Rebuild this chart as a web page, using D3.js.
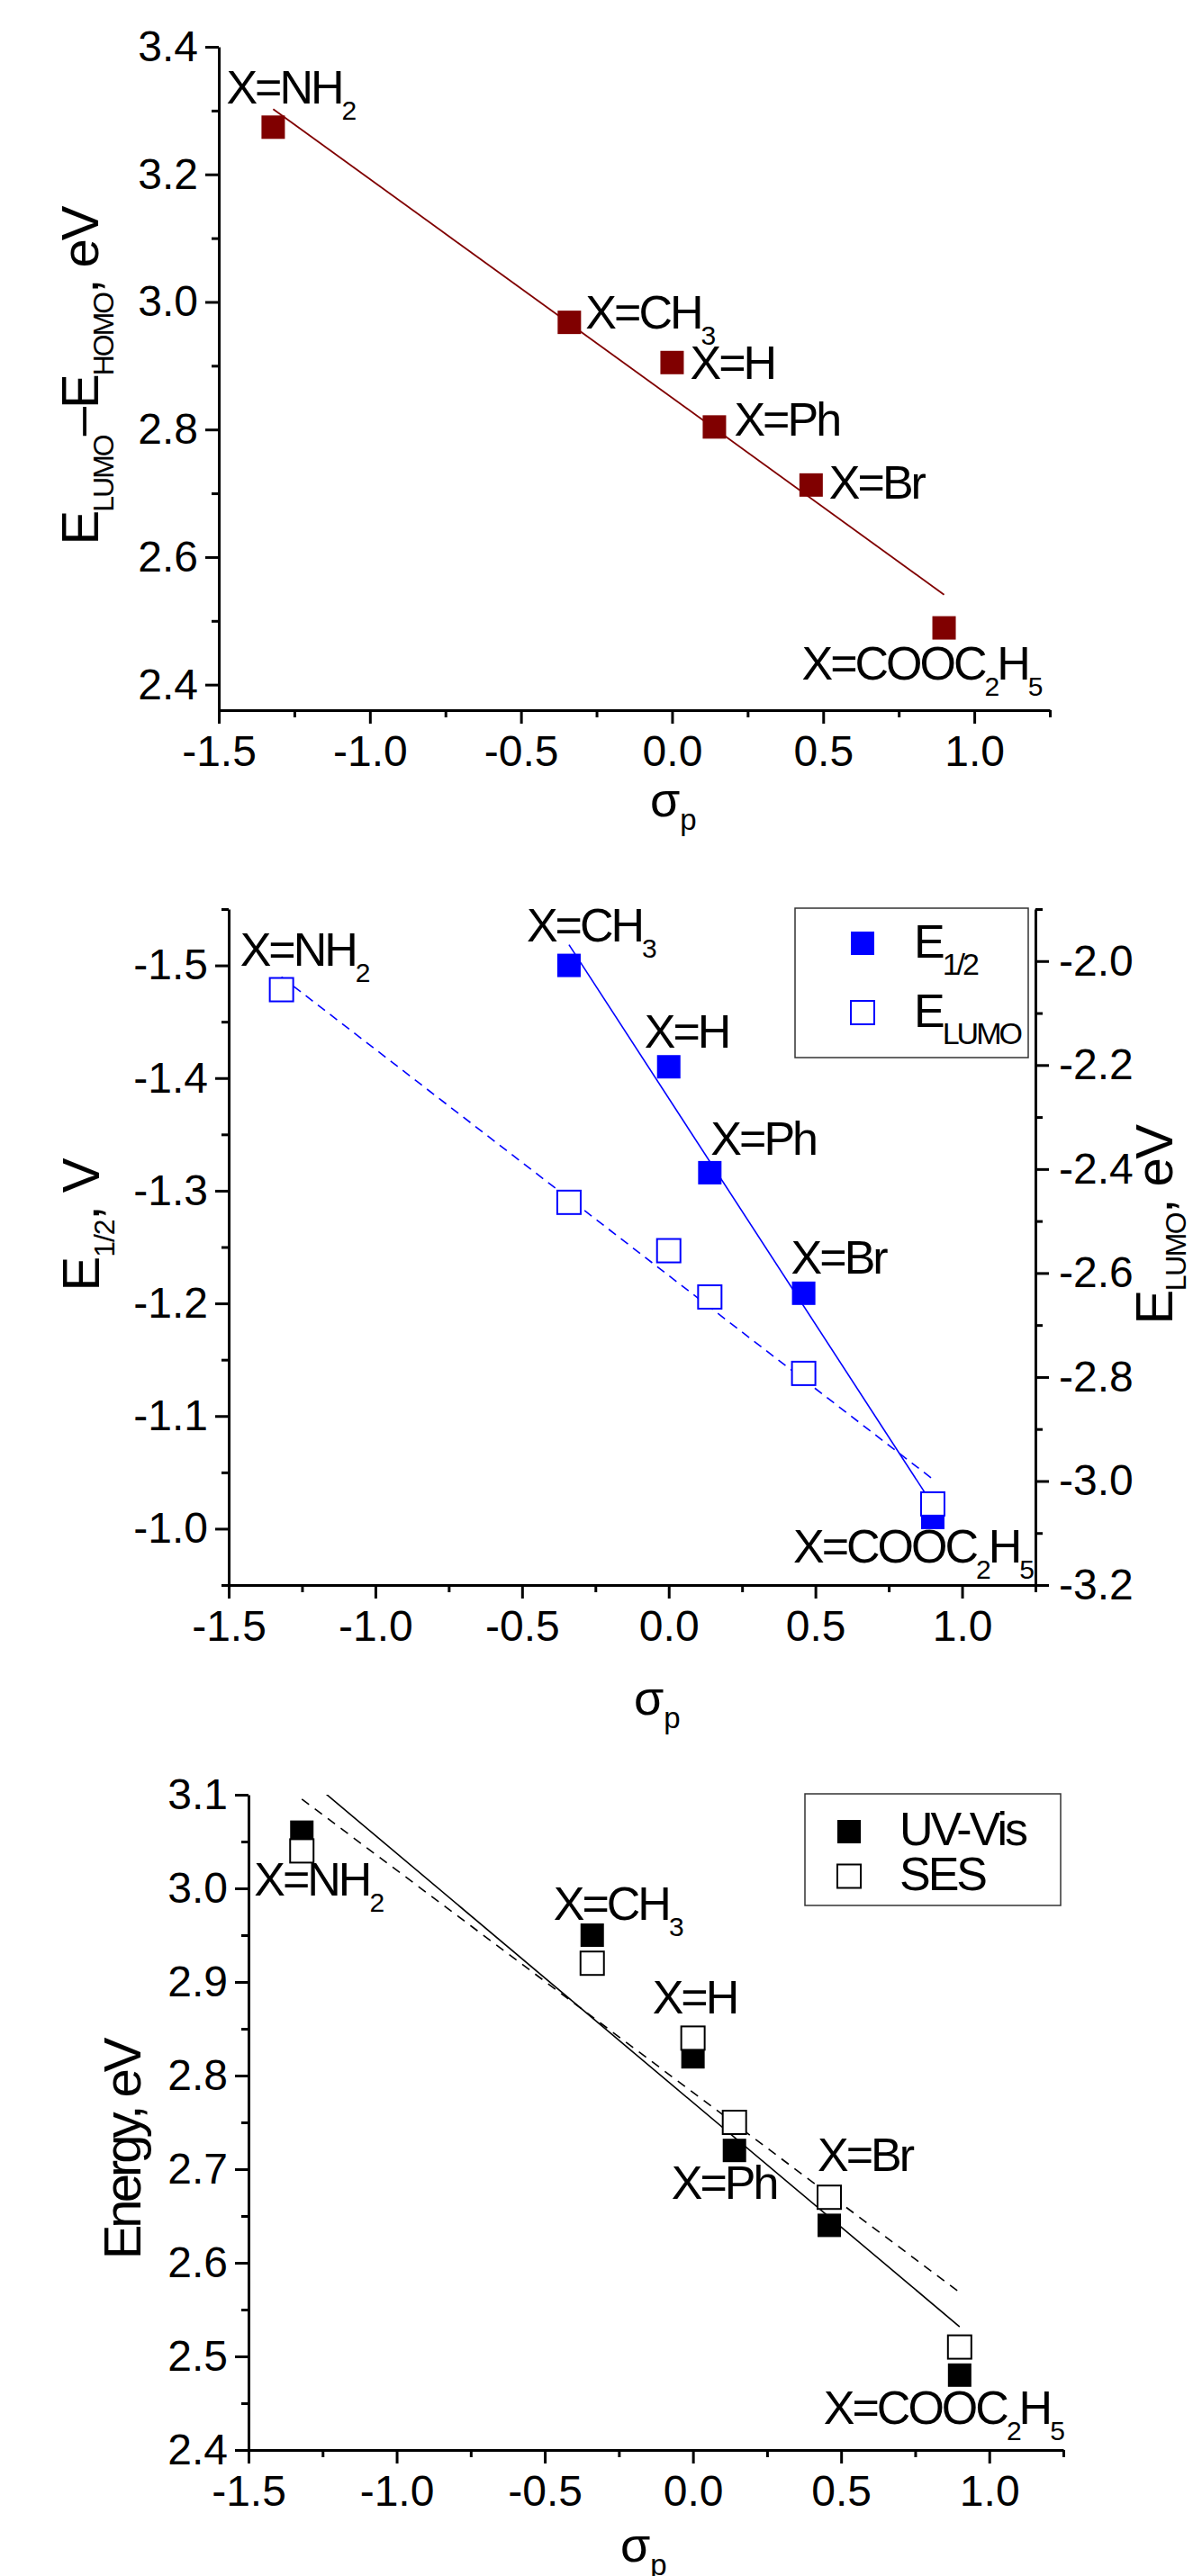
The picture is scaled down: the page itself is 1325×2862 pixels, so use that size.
<!DOCTYPE html>
<html>
<head>
<meta charset="utf-8">
<script src="https://cdn.jsdelivr.net/npm/d3@7"></script>
<style>
  body { margin: 0; background: #fff; }
  svg text { font-family: "Liberation Sans", Arial, sans-serif; fill: #000; }
</style>
</head>
<body>
<div id="chart"></div>
<script>
// substituents X and their sigma_p constants
const substituents = ["X=NH_2", "X=CH_3", "X=H", "X=Ph", "X=Br", "X=COOC_2H_5"];
const sigmaP = [-1.32, -0.34, 0, 0.14, 0.46, 0.9];

// top panel: E_LUMO - E_HOMO, eV
const gapEnergy = [3.274, 2.968, 2.905, 2.804, 2.713, 2.489];

// middle panel: E_1/2 (V, left axis) and E_LUMO (eV, right axis)
const halfWave = [null, -1.50, -1.41, -1.316, -1.209, -1.01];
const lumoEnergy = [-2.055, -2.464, -2.557, -2.646, -2.793, -3.044];

// bottom panel: UV-Vis and SES energies, eV
const uvVisEnergy = [3.06, 2.95, 2.82, 2.72, 2.64, 2.48];
const sesEnergy = [3.04, 2.92, 2.84, 2.75, 2.67, 2.51];

// tick values
const xMajor = [-1.5, -1.0, -0.5, 0.0, 0.5, 1.0];
const xMinor = [-1.25, -0.75, -0.25, 0.25, 0.75, 1.25];
const gapMajor = [2.4, 2.6, 2.8, 3.0, 3.2, 3.4];
const gapMinor = [2.5, 2.7, 2.9, 3.1, 3.3];
const halfMajor = [-1.5, -1.4, -1.3, -1.2, -1.1, -1.0];
const halfMinor = [-1.55, -1.45, -1.35, -1.25, -1.15, -1.05, -0.95];
const lumoMajor = [-2.0, -2.2, -2.4, -2.6, -2.8, -3.0, -3.2];
const lumoMinor = [-1.9, -2.1, -2.3, -2.5, -2.7, -2.9, -3.1];
const energyMajor = [2.4, 2.5, 2.6, 2.7, 2.8, 2.9, 3.0, 3.1];
const energyMinor = [2.45, 2.55, 2.65, 2.75, 2.85, 2.95, 3.05];

// label offsets (px) from the anchor point of each substituent
const gapLabelOffset = [[-52, -26], [18, 7], [20, 18], [22, 10], [20, 15], [-158, 57]];
const redoxLabelOffset = [[-46, -27], [-47, -27], [-27, -21], [1, -20], [-14, -22], [-155, 50]];
const energyLabelOffset = [[-53, 70], [-43, -17], [-45, -48], [-70, 54], [-13, -60], [-151, 54]];

const W = 1325, H = 2862;
const svg = d3.select("#chart").append("svg")
    .attr("width", W).attr("height", H)
    .style("background", "#fff");

const fmt = d => d3.format(".1f")(d).replace("\u2212", "-");

// text with _x or _{xx} subscripts
function richText(sel, str, subSize, subShift) {
  const parts = str.match(/_\{[^}]*\}|_.|[^_]+/g);
  let low = false;
  parts.forEach(p => {
    if (p[0] === "_") {
      const t = p[1] === "{" ? p.slice(2, -1) : p.slice(1);
      sel.append("tspan").attr("font-size", subSize).attr("dy", low ? 0 : subShift).text(t);
      low = true;
    } else {
      sel.append("tspan").attr("dy", low ? -subShift : 0).text(p);
      low = false;
    }
  });
  return sel;
}

function addAxis(orient, scale, major, minor, pos) {
  const make = orient === "left" ? d3.axisLeft : orient === "right" ? d3.axisRight : d3.axisBottom;
  const tr = orient === "bottom" ? `translate(0,${pos})` : `translate(${pos},0)`;
  const pad = orient === "bottom" ? 13 : orient === "left" ? 8 : 11;
  svg.append("g").attr("transform", tr)
      .call(make(scale).tickValues(minor).tickSize(8).tickSizeOuter(0).tickFormat(""))
      .call(g => g.select(".domain").remove())
      .call(g => g.selectAll("line").attr("stroke-width", 3));
  svg.append("g").attr("transform", tr)
      .call(make(scale).tickValues(major).tickSize(15).tickSizeOuter(0).tickPadding(pad).tickFormat(fmt))
      .call(g => g.select(".domain").attr("stroke-width", 3))
      .call(g => g.selectAll("line").attr("stroke-width", 3))
      .call(g => g.selectAll("text").attr("font-size", 48).attr("font-family", null));
}

function fitLine(xs, ys) {
  const pts = xs.map((x, i) => [x, ys[i]]).filter(d => d[1] != null);
  const mx = d3.mean(pts, d => d[0]), my = d3.mean(pts, d => d[1]);
  const b = d3.sum(pts, d => (d[0] - mx) * (d[1] - my)) / d3.sum(pts, d => (d[0] - mx) ** 2);
  const [x0, x1] = d3.extent(pts, d => d[0]);
  return [[x0, my + b * (x0 - mx)], [x1, my + b * (x1 - mx)]];
}

function clipFor(id, x, y) {
  svg.append("clipPath").attr("id", id).append("rect")
      .attr("x", x.range()[0]).attr("y", y.range()[1])
      .attr("width", x.range()[1] - x.range()[0])
      .attr("height", y.range()[0] - y.range()[1]);
  return `url(#${id})`;
}

function squares(xs, ys, x, y, fill, stroke) {
  const pts = xs.map((v, i) => [v, ys[i]]).filter(d => d[1] != null);
  svg.append("g").selectAll("rect").data(pts).join("rect")
      .attr("x", d => x(d[0]) - 13).attr("y", d => y(d[1]) - 13)
      .attr("width", 26).attr("height", 26)
      .attr("fill", fill).attr("stroke", stroke).attr("stroke-width", stroke === "none" ? 0 : 2);
}

function labels(anchorX, anchorY, offsets) {
  substituents.forEach((s, i) => {
    const t = svg.append("text")
        .attr("x", anchorX(i) + offsets[i][0]).attr("y", anchorY(i) + offsets[i][1])
        .attr("font-size", 52).attr("letter-spacing", -3);
    richText(t, s, 30, 18);
  });
}

function yTitle(str, x, y, spacing, subShift) {
  const t = svg.append("text")
      .attr("transform", `translate(${x},${y}) rotate(-90)`)
      .attr("text-anchor", "middle").attr("font-size", 58).attr("letter-spacing", spacing);
  richText(t, str, 32, subShift || 17);
}

function xTitle(x, y) {
  const t = svg.append("text").attr("x", x).attr("y", y).attr("font-size", 54);
  richText(t, "\u03c3_p", 33, 15);
}

function legendBox(x0, y0, x1, y1) {
  svg.append("rect").attr("x", x0).attr("y", y0).attr("width", x1 - x0).attr("height", y1 - y0)
      .attr("fill", "#fff").attr("stroke", "#333").attr("stroke-width", 1.5);
}

// ---------- top panel ----------
{
  const x = d3.scaleLinear().domain([-1.5, 1.25]).range([243, 1166]);
  const y = d3.scaleLinear().domain([2.36, 3.4]).range([789, 52]);
  const line = d3.line().x(d => x(d[0])).y(d => y(d[1]));
  svg.append("path").attr("d", line(fitLine(sigmaP, gapEnergy)))
      .attr("fill", "none").attr("stroke", "#800000").attr("stroke-width", 1.8)
      .attr("clip-path", clipFor("clip1", x, y));
  squares(sigmaP, gapEnergy, x, y, "#800000", "none");
  addAxis("left", y, gapMajor, gapMinor, 243);
  addAxis("bottom", x, xMajor, xMinor, 789);
  labels(i => x(sigmaP[i]), i => y(gapEnergy[i]), gapLabelOffset);
  yTitle("E_{LUMO}\u2013E_{HOMO}, eV", 109, 418, -2);
  xTitle(722, 907);
}

// ---------- middle panel ----------
{
  const x = d3.scaleLinear().domain([-1.5, 1.25]).range([254, 1150]);
  const yL = d3.scaleLinear().domain([-0.95, -1.55]).range([1761, 1010]);
  const yR = d3.scaleLinear().domain([-3.2, -1.9]).range([1761, 1010]);
  const clip = clipFor("clip2", x, yL);
  svg.append("path").attr("d", d3.line().x(d => x(d[0])).y(d => yL(d[1]))(fitLine(sigmaP, halfWave)))
      .attr("fill", "none").attr("stroke", "#0000ff").attr("stroke-width", 1.6).attr("clip-path", clip);
  svg.append("path").attr("d", d3.line().x(d => x(d[0])).y(d => yR(d[1]))(fitLine(sigmaP, lumoEnergy)))
      .attr("fill", "none").attr("stroke", "#0000ff").attr("stroke-width", 1.6)
      .attr("stroke-dasharray", "10,7").attr("clip-path", clip);
  squares(sigmaP, halfWave, x, yL, "#0000ff", "none");
  squares(sigmaP, lumoEnergy, x, yR, "#fff", "#0000ff");
  addAxis("left", yL, halfMajor, halfMinor, 254);
  addAxis("right", yR, lumoMajor, lumoMinor, 1150);
  addAxis("bottom", x, xMajor, xMinor, 1761);
  labels(i => x(sigmaP[i]),
         i => halfWave[i] != null ? yL(halfWave[i]) : yR(lumoEnergy[i]),
         redoxLabelOffset);
  yTitle("E_{1/2}, V", 110, 1361, -1);
  yTitle("E_{LUMO}, eV", 1302, 1361, -1.5, 15);
  xTitle(704, 1905);

  // legend
  legendBox(883, 1009, 1142, 1175);
  const items = [["E_{1/2}", "#0000ff", "none"], ["E_{LUMO}", "#fff", "#0000ff"]];
  items.forEach((it, i) => {
    const cy = 1048 + i * 77;
    svg.append("rect").attr("x", 958 - 13).attr("y", cy - 13).attr("width", 26).attr("height", 26)
        .attr("fill", it[1]).attr("stroke", it[2]).attr("stroke-width", it[2] === "none" ? 0 : 2);
    const t = svg.append("text").attr("x", 1015).attr("y", cy + 16)
        .attr("font-size", 52).attr("letter-spacing", -3);
    richText(t, it[0], 34, 19);
  });
}

// ---------- bottom panel ----------
{
  const x = d3.scaleLinear().domain([-1.5, 1.25]).range([276, 1181]);
  const y = d3.scaleLinear().domain([2.4, 3.1]).range([2722, 1994]);
  const clip = clipFor("clip3", x, y);
  const line = d3.line().x(d => x(d[0])).y(d => y(d[1]));
  svg.append("path").attr("d", line(fitLine(sigmaP, uvVisEnergy)))
      .attr("fill", "none").attr("stroke", "#000").attr("stroke-width", 1.6).attr("clip-path", clip);
  svg.append("path").attr("d", line(fitLine(sigmaP, sesEnergy)))
      .attr("fill", "none").attr("stroke", "#000").attr("stroke-width", 1.6)
      .attr("stroke-dasharray", "10,8").attr("clip-path", clip);
  squares(sigmaP, uvVisEnergy, x, y, "#000", "none");
  squares(sigmaP, sesEnergy, x, y, "#fff", "#000");
  addAxis("left", y, energyMajor, energyMinor, 276);
  addAxis("bottom", x, xMajor, xMinor, 2722);
  labels(i => x(sigmaP[i]), i => y(uvVisEnergy[i]), energyLabelOffset);
  yTitle("Energy, eV", 156, 2389, -4);
  xTitle(689, 2846);

  // legend
  legendBox(894, 1993, 1178, 2117);
  const items = [["UV-Vis", "#000", "none"], ["SES", "#fff", "#000"]];
  items.forEach((it, i) => {
    const cy = 2035 + i * 49.5;
    svg.append("rect").attr("x", 943 - 13).attr("y", cy - 13).attr("width", 26).attr("height", 26)
        .attr("fill", it[1]).attr("stroke", it[2]).attr("stroke-width", it[2] === "none" ? 0 : 2);
    svg.append("text").attr("x", 999).attr("y", cy + 15)
        .attr("font-size", 52).attr("letter-spacing", -3).text(it[0]);
  });
}
</script>
</body>
</html>
